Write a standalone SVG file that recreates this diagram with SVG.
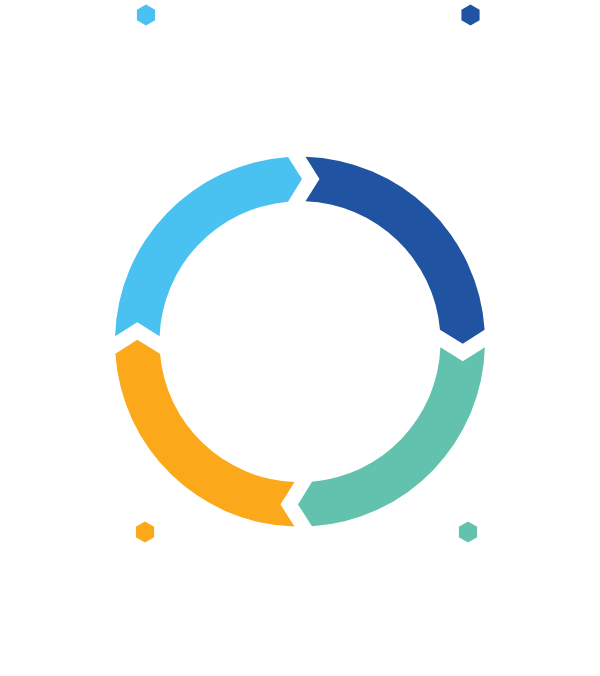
<svg xmlns="http://www.w3.org/2000/svg" width="600" height="676" viewBox="0 0 600 676">
<defs>
<style>
.lb{fill:#49C2F1}
.db{fill:#2054A2}
.tl{fill:#62C2AD}
.or{fill:#FBA81B}
</style>
<polygon id="hex" points="0,-10.5 9.09,-5.25 9.09,5.25 0,10.5 -9.09,5.25 -9.09,-5.25"/>
</defs>
<rect width="600" height="676" fill="#FFFFFF"/>
<g id="markers">
<use id="hex-lb" href="#hex" class="lb" x="146" y="15"/>
<use id="hex-db" href="#hex" class="db" x="470.5" y="15"/>
<use id="hex-or" href="#hex" class="or" x="145" y="532"/>
<use id="hex-tl" href="#hex" class="tl" x="468" y="532"/>
</g>
<g id="cycle">
<g id="seg-lightblue"><path class="lb" d="M115.08,336.2 A185,185 0 0 1 288,157.09 L302,178.95 L288,201.71 A140.5,140.5 0 0 0 159.61,336.2 L137.25,322.2 Z"/></g>
<g id="seg-darkblue"><path class="db" d="M305.5,156.78 A185,185 0 0 1 484.61,329.7 L462.75,343.7 L439.99,329.7 A140.5,140.5 0 0 0 305.5,201.31 L319.5,178.95 Z"/></g>
<g id="seg-teal"><path class="tl" d="M484.92,347.2 A185,185 0 0 1 312,526.31 L298,504.45 L312,481.69 A140.5,140.5 0 0 0 440.39,347.2 L462.75,361.2 Z"/></g>
<g id="seg-orange"><path class="or" d="M294.5,526.62 A185,185 0 0 1 115.39,353.7 L137.25,339.7 L160.01,353.7 A140.5,140.5 0 0 0 294.5,482.09 L280.5,504.45 Z"/></g>
</g>
</svg>
